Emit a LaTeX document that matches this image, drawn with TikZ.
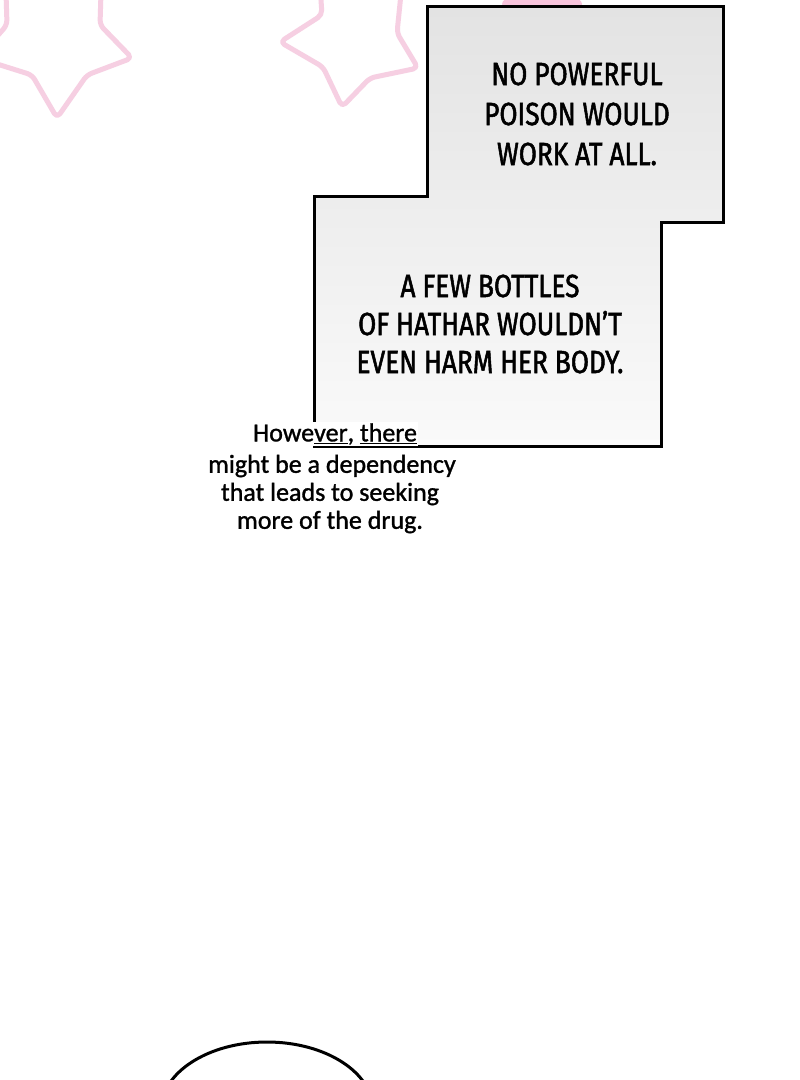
\documentclass[tikz,border=0pt]{standalone}
\usepackage{fontspec}
\newfontfamily\capsfont[FakeStretch=0.82, FakeBold=1.6]{Fira Sans}
\newfontfamily\handfont[FakeBold=1.2]{Carlito}
\definecolor{starpink}{HTML}{F6CFE2}
\definecolor{blobpink}{HTML}{F8C4DC}
\usetikzlibrary{positioning}
\begin{document}
\begin{tikzpicture}[x=1pt, y=-1pt,
    panel/.style={line width=3pt, line join=miter},
    starline/.style={draw=starpink, line width=5pt, line join=round, rounded corners=5pt},
    caps/.style={font=\capsfont\fontsize{32}{40}\selectfont, align=center},
    hand/.style={font=\handfont\fontsize{26}{29}\selectfont, fill=white, inner sep=1pt}]
    \useasboundingbox (0,0) rectangle (800,1080);
    \clip (0,0) rectangle (800,1080);
    \fill[white] (0,0) rectangle (800,1080);
    \draw[starline] (-22,58) -- (32,75) -- (57,118) -- (87,75) -- (132,58) -- (100,25) -- (102,-40) -- (55,-8) -- (5,-40) -- (7,25) -- cycle;
    \draw[starline] (280,42) -- (323,67) -- (342,107) -- (370,78) -- (418,68) -- (397,33) -- (405,-45) -- (360,-12) -- (318,-45) -- (322,15) -- cycle;
    \fill[blobpink] (542,4) ellipse [x radius=40, y radius=12];
    \shade[top color=black!11, bottom color=black!2] (427,6) -- (723,6) -- (723,222) -- (661,222) -- (661,446) -- (314,446) -- (314,196) -- (427,196) -- cycle;
    \draw[panel] (427,6) -- (723,6) -- (723,222) -- (661,222) -- (661,446) -- (314,446) -- (314,196) -- (427,196) -- cycle;
    \node[caps] (poison) at (577,114) {NO POWERFUL\\POISON WOULD\\WORK AT ALL.};
    \node[caps, font=\capsfont\fontsize{32}{38}\selectfont] (bottles) at (490,324) {A FEW BOTTLES\\OF HATHAR WOULDN’T\\EVEN HARM HER BODY.};
    \node[hand] (hand1) at (335,434) {Howe\underline{ver}, \underline{there}};
    \node[hand] (hand2) at (332,466) {might be a dependency};
    \node[hand] (hand3) at (330,494) {that leads to seeking};
    \node[hand] (hand4) at (330,522) {more of the drug.};
    \draw[panel, fill=white] (267,1110) ellipse [x radius=106, y radius=68];
\end{tikzpicture}
\end{document}
